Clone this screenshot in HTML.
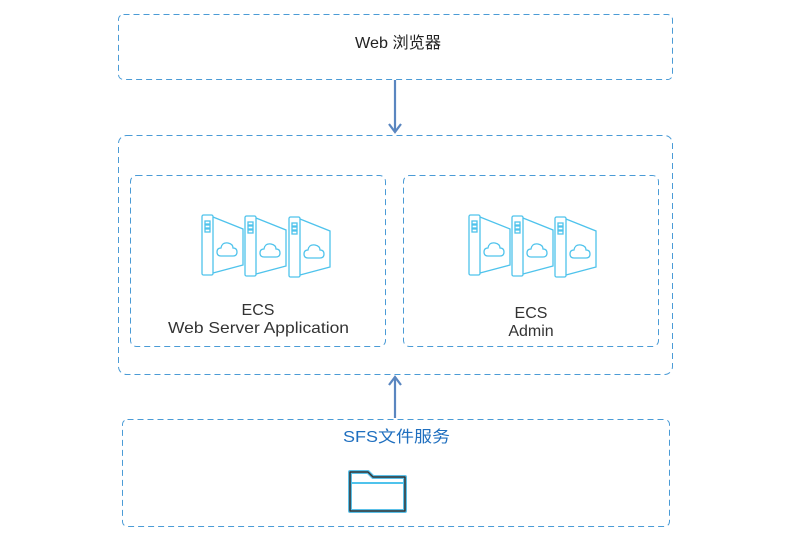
<!DOCTYPE html>
<html><head><meta charset="utf-8"><style>
body{margin:0;background:#fff;width:795px;height:552px;overflow:hidden}
svg{display:block}
text{font-family:"Liberation Sans","Noto Sans CJK SC",sans-serif}
</style></head><body>
<svg width="795" height="552" viewBox="0 0 795 552">
<defs>
<g id="srv" fill="none" stroke="#4fc3ec" stroke-width="1.3">
<rect x="0" y="0" width="11" height="60" rx="1.5"/>
<path d="M11 2 L41 14 L41 50 L11 58"/>
<rect x="3" y="6" width="5" height="3"/><rect x="3" y="10" width="5" height="3"/><rect x="3" y="14" width="5" height="3"/>
<path d="M19 41 q-4 0 -4 -4 q0 -4 4 -4 q1 -6 7 -5 q5 1 5 5 q4 0 4 4 q0 4 -4 4 z"/>
</g>
</defs>
<g fill="none" stroke="#4a9bd6" stroke-width="1" stroke-dasharray="6,4">
<rect x="118.5" y="14.5" width="554" height="65" rx="5"/>
<rect x="118.5" y="135.5" width="554" height="239" rx="8"/>
<rect x="130.5" y="175.5" width="255" height="171" rx="6"/>
<rect x="403.5" y="175.5" width="255" height="171" rx="6"/>
<rect x="122.5" y="419.5" width="547" height="107" rx="5"/>
</g>
<text x="355" y="48" font-size="16" fill="#222" textLength="86" lengthAdjust="spacingAndGlyphs">Web 浏览器</text>
<g stroke="#5a86c0" stroke-width="2.2" fill="none">
<line x1="395" y1="80" x2="395" y2="132"/><path d="M389 124 L395 132 L401 124"/>
<line x1="395" y1="418" x2="395" y2="377"/><path d="M389 385 L395 377 L401 385"/>
</g>
<use href="#srv" x="202" y="215"/><use href="#srv" x="245" y="216"/><use href="#srv" x="289" y="217"/>
<use href="#srv" x="469" y="215"/><use href="#srv" x="512" y="216"/><use href="#srv" x="555" y="217"/>
<text x="258" y="315" font-size="16" fill="#333" text-anchor="middle">ECS</text>
<text x="168" y="333" font-size="16" fill="#333" textLength="181" lengthAdjust="spacingAndGlyphs">Web Server Application</text>
<text x="531" y="318" font-size="16" fill="#333" text-anchor="middle">ECS</text>
<text x="531" y="336" font-size="16" fill="#333" text-anchor="middle">Admin</text>
<text x="343" y="442" font-size="16" fill="#1f6fbf" textLength="107" lengthAdjust="spacingAndGlyphs">SFS文件服务</text>
<g fill="none">
<path d="M350 472 L368 472 L373 477 L405 477 L405 511 L350 511 Z" stroke="#5bc0e8" stroke-width="4" stroke-linejoin="round"/>
<path d="M350 472 L368 472 L373 477 L405 477 L405 511 L350 511 Z" stroke="#333" stroke-width="1.5" stroke-linejoin="round"/>
<line x1="351" y1="483" x2="404" y2="483" stroke="#4fc3ec" stroke-width="2"/>
</g>
</svg>
</body></html>
